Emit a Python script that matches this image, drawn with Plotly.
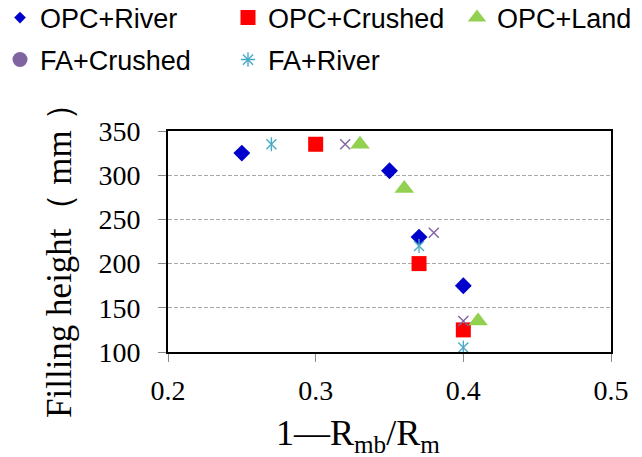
import plotly.graph_objects as go

# Data
opc_river_x = [0.25, 0.35, 0.37, 0.40]
opc_river_y = [325, 305, 230, 175]
opc_crushed_x = [0.30, 0.37, 0.40]
opc_crushed_y = [335, 200, 125]
opc_land_x = [0.33, 0.36, 0.41]
opc_land_y = [335, 285, 135]
fa_crushed_x = [0.32, 0.38, 0.40]
fa_crushed_y = [335, 235, 135]
fa_river_x = [0.27, 0.37, 0.40]
fa_river_y = [335, 220, 105]

x_ticks = [0.2, 0.3, 0.4, 0.5]
y_ticks = [100, 150, 200, 250, 300, 350]

BLUE = "#0000CC"
RED = "#FF0000"
GREEN = "#92D050"
PURPLE = "#8064A2"
CYAN = "#4BACC6"

fig = go.Figure()

def pts(xs, ys, sym, col, size, thin=False):
    fig.add_trace(go.Scatter(
        x=xs, y=ys, mode="markers", showlegend=False, hoverinfo="x+y",
        marker=dict(symbol=sym, color=col, size=size,
                    line=dict(color=col, width=1.4 if thin else 0)),
        cliponaxis=False,
    ))

pts(opc_river_x, opc_river_y, "diamond", BLUE, 13)
pts(opc_crushed_x, opc_crushed_y, "square", RED, 15)
pts(opc_land_x, opc_land_y, "triangle-up", GREEN, 17)
pts(fa_crushed_x, fa_crushed_y, "x-thin", PURPLE, 10, True)
pts(fa_river_x, fa_river_y, "x-thin", CYAN, 10, True)
pts(fa_river_x, fa_river_y, "line-ns", CYAN, 10, True)

# legend entries (one legend box per entry, to place them like the reference)
legend_items = [
    ("OPC+River", "diamond", BLUE, 9, "legend"),
    ("OPC+Crushed", "square", RED, 15, "legend2"),
    ("OPC+Land", "triangle-up", GREEN, 16, "legend3"),
    ("FA+Crushed", "circle", PURPLE, 15, "legend4"),
    ("FA+River", "asterisk", CYAN, 12, "legend5"),
]
for name, sym, col, size, lg in legend_items:
    thin = sym in ("asterisk", "x-thin")
    fig.add_trace(go.Scatter(
        x=[None], y=[None], mode="markers", name=name, showlegend=True, legend=lg,
        marker=dict(symbol=sym, color=col, size=size,
                    line=dict(color=col, width=1.4 if thin else 0)),
    ))

W, H = 642, 457
ML, MR, MT, MB = 168, 31, 131, 105
PW, PH = W - ML - MR, H - MT - MB

def px_x(p):
    return (p - ML) / PW

def px_y(p):
    return (H - MB - p) / PH

legend_font = dict(family="Liberation Sans, Arial", size=27, color="black")

def lg(x0, yc):
    return dict(x=px_x(x0), y=px_y(yc), xanchor="left", yanchor="middle",
                orientation="h", font=legend_font, bgcolor="rgba(0,0,0,0)",
                borderwidth=0, itemsizing="trace")

serif = "Liberation Serif"

fig.update_layout(
    width=W, height=H,
    margin=dict(l=ML, r=MR, t=MT, b=MB, autoexpand=False),
    paper_bgcolor="white", plot_bgcolor="white",
    showlegend=True,
    legend=lg(0, 18),
    legend2=lg(228, 18),
    legend3=lg(457, 18),
    legend4=lg(0, 60),
    legend5=lg(228, 60),
    xaxis=dict(
        range=[0.2, 0.5], tickvals=x_ticks, ticktext=[f"{v:.1f}" for v in x_ticks],
        showgrid=False, zeroline=False, automargin=False,
        showline=True, linecolor="black", linewidth=2, mirror=True,
        ticks="outside", ticklen=8, tickcolor="#888888", tickwidth=1,
        ticklabelstandoff=4,
        tickfont=dict(family=serif, size=28, color="black"),
    ),
    yaxis=dict(
        range=[100, 350], tickvals=y_ticks,
        showgrid=True, gridcolor="#A8A8A8", griddash="4px,2px", gridwidth=1,
        zeroline=False, automargin=False,
        showline=True, linecolor="black", linewidth=2, mirror=True,
        ticks="outside", ticklen=8, tickcolor="#888888", tickwidth=1,
        ticklabelstandoff=12,
        tickfont=dict(family=serif, size=28, color="black"),
    ),
    annotations=[
        dict(text="1—R<sub>mb</sub>/R<sub>m</sub>", xref="paper", yref="paper",
             x=px_x(358), y=px_y(435), xanchor="center", yanchor="middle",
             showarrow=False, font=dict(family=serif, size=36, color="black")),
        dict(text="Filling height（ mm ）", xref="paper", yref="paper",
             x=px_x(59), y=px_y(252), xanchor="center", yanchor="middle",
             textangle=-90, showarrow=False,
             font=dict(family=serif, size=35, color="black")),
    ],
)

fig.write_html("out.html", config={"displayModeBar": False},
               post_script="document.body.style.margin='0';")
